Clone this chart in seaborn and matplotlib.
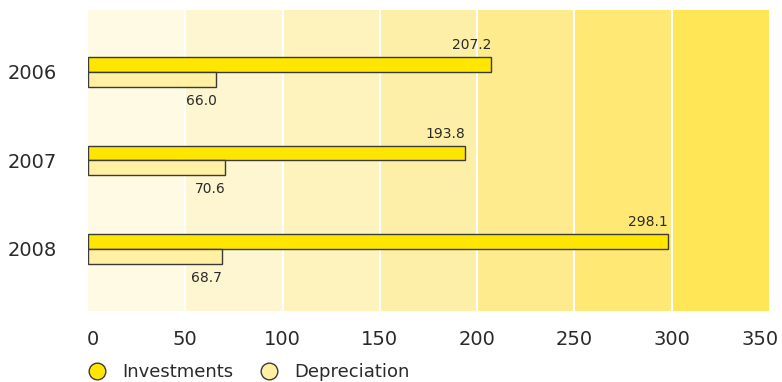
import matplotlib
matplotlib.use("Agg")
import matplotlib.pyplot as plt
import matplotlib.transforms as mtransforms
import seaborn as sns
import pandas as pd
from matplotlib.lines import Line2D

# Data (EUR million)
years = ["2006", "2007", "2008"]
investments = [207.2, 193.8, 298.1]
depreciation = [66.0, 70.6, 68.7]
series_names = ["Investments", "Depreciation"]
x_ticks = [0, 50, 100, 150, 200, 250, 300, 350]

# Styling
bar_colors = {"Investments": "#FFE600", "Depreciation": "#FFF0A3"}
band_colors = ["#FEFAE3", "#FEF6D0", "#FEF3BC", "#FEEFA8",
               "#FEEB8E", "#FFE874", "#FFE657"]
edge_color = "#3A3A3A"
text_color = "#2A2A2A"

df = pd.DataFrame({
    "Year": years * 2,
    "Value": investments + depreciation,
    "Series": [series_names[0]] * len(years) + [series_names[1]] * len(years),
})

sns.set_style("white")
plt.rcParams["font.family"] = ["DejaVu Sans"]

fig = plt.figure(figsize=(7.82, 3.82), dpi=100)
ax = fig.add_axes([0.1125, 0.186, 0.871, 0.788])

# Shaded vertical bands, one per 50-unit interval
for lo, hi, c in zip(x_ticks[:-1], x_ticks[1:], band_colors):
    ax.axvspan(lo, hi, color=c, lw=0, zorder=0)
for x in x_ticks[1:-1]:
    ax.axvline(x, color="white", lw=1.5, zorder=0.5)

sns.barplot(data=df, y="Year", x="Value", hue="Series", orient="h",
            palette=bar_colors, saturation=1, width=0.33,
            edgecolor=edge_color, linewidth=1.0, ax=ax, legend=False,
            zorder=2)

# Value labels: investments above the bar end, depreciation below
for container, name in zip(ax.containers, series_names):
    for bar in container:
        val = bar.get_width()
        yc = bar.get_y()
        h = bar.get_height()
        if name == "Investments":
            ax.text(val, yc - 0.06, f"{val:.1f}", ha="right", va="bottom",
                    fontsize=10, color=text_color, zorder=3)
        else:
            ax.text(val, yc + h + 0.08, f"{val:.1f}", ha="right", va="top",
                    fontsize=10, color=text_color, zorder=3)

ax.set_xlim(0, 350)
ax.set_ylim(2.7, -0.7)
ax.set_xticks(x_ticks)
ax.set_xticklabels([str(t) for t in x_ticks])
ax.set_xlabel("")
ax.set_ylabel("")
ax.tick_params(axis="x", length=0, pad=14, labelsize=14, labelcolor=text_color)
ax.tick_params(axis="y", length=0, pad=58, labelsize=14, labelcolor=text_color)
for lbl in ax.get_yticklabels():
    lbl.set_horizontalalignment("left")

# Keep the outermost tick labels inside the figure
last = ax.get_xticklabels()[-1]
last.set_transform(last.get_transform() +
                   mtransforms.ScaledTranslation(-9 / 100, 0, fig.dpi_scale_trans))
first = ax.get_xticklabels()[0]
first.set_transform(first.get_transform() +
                    mtransforms.ScaledTranslation(5 / 100, 0, fig.dpi_scale_trans))

for s in ax.spines.values():
    s.set_visible(False)

handles = [Line2D([0], [0], marker="o", linestyle="", markersize=12,
                  markerfacecolor=bar_colors[n], markeredgecolor=edge_color,
                  markeredgewidth=1.0, label=n) for n in series_names]
fig.legend(handles=handles, loc="lower left", bbox_to_anchor=(0.080, -0.04),
           ncol=2, frameon=False, fontsize=13, handletextpad=0.4,
           columnspacing=1.0, labelcolor=text_color)

fig.savefig("out.png", dpi=100)
